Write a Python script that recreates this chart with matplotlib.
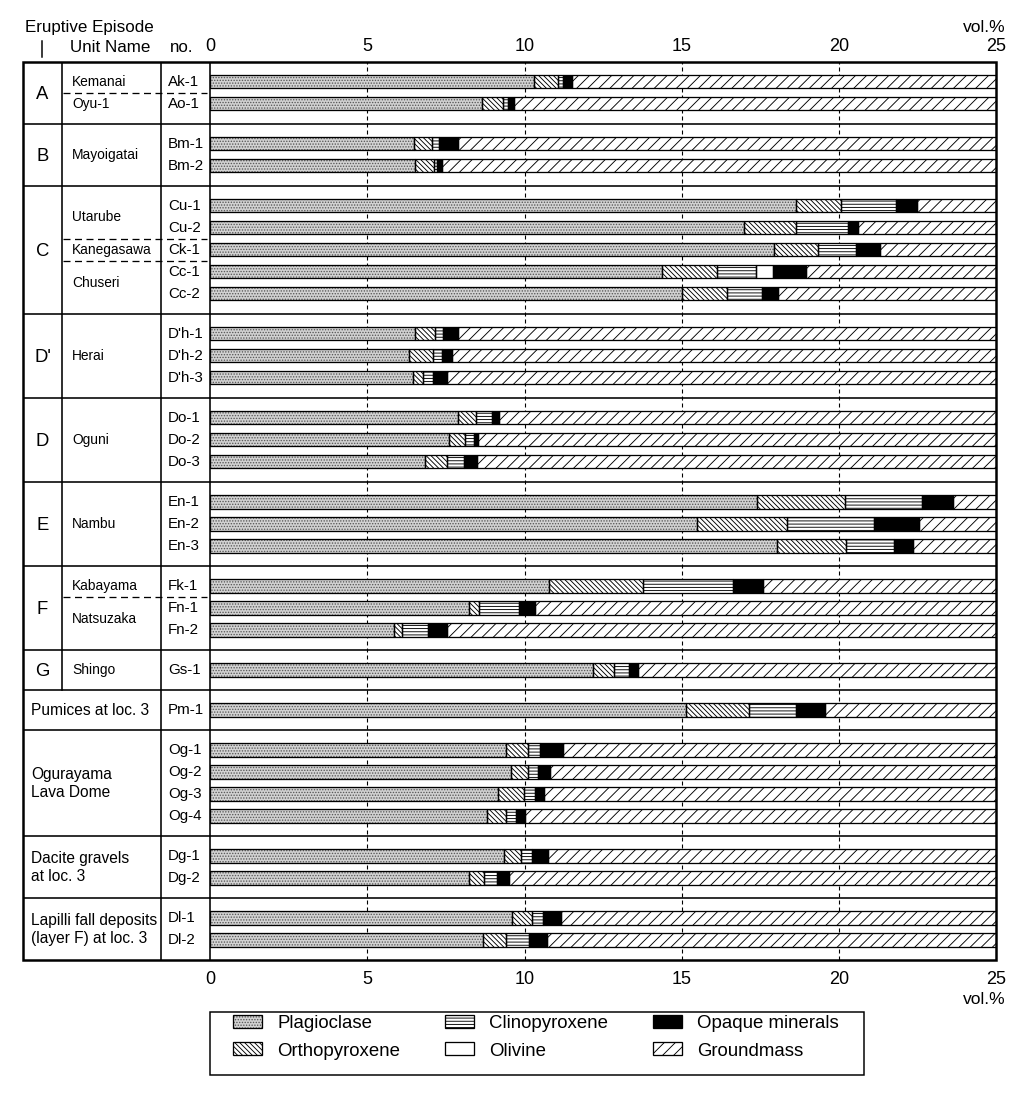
import matplotlib
matplotlib.use('Agg')
import matplotlib.pyplot as plt
from matplotlib.patches import Patch, Rectangle
import numpy as np

# ---------------- data (vol.%) ----------------
samples = ['Ak-1', 'Ao-1', 'Bm-1', 'Bm-2', 'Cu-1', 'Cu-2', 'Ck-1', 'Cc-1', 'Cc-2',
           "D'h-1", "D'h-2", "D'h-3", 'Do-1', 'Do-2', 'Do-3', 'En-1', 'En-2', 'En-3',
           'Fk-1', 'Fn-1', 'Fn-2', 'Gs-1', 'Pm-1', 'Og-1', 'Og-2', 'Og-3', 'Og-4',
           'Dg-1', 'Dg-2', 'Dl-1', 'Dl-2']
plagioclase = [10.30, 8.66, 6.47, 6.53, 18.64, 16.99, 17.94, 14.37, 15.02,
               6.53, 6.34, 6.44, 7.87, 7.61, 6.83, 17.40, 15.48, 18.04,
               10.78, 8.22, 5.84, 12.19, 15.14, 9.41, 9.56, 9.17, 8.82,
               9.35, 8.22, 9.61, 8.69]
orthopyroxene = [0.77, 0.64, 0.58, 0.59, 1.43, 1.65, 1.39, 1.74, 1.43,
                 0.61, 0.74, 0.34, 0.59, 0.51, 0.69, 2.78, 2.86, 2.19,
                 3.00, 0.34, 0.25, 0.64, 2.00, 0.69, 0.54, 0.80, 0.59,
                 0.54, 0.50, 0.64, 0.72]
clinopyroxene = [0.16, 0.19, 0.23, 0.09, 1.75, 1.63, 1.22, 1.24, 1.09,
                 0.28, 0.29, 0.30, 0.50, 0.28, 0.54, 2.47, 2.76, 1.53,
                 2.86, 1.25, 0.83, 0.50, 1.50, 0.40, 0.34, 0.35, 0.32,
                 0.36, 0.40, 0.35, 0.73]
olivine = [0, 0, 0, 0, 0, 0, 0, 0.54, 0,
           0, 0, 0, 0, 0, 0, 0, 0, 0,
           0, 0, 0, 0, 0, 0, 0, 0, 0,
           0, 0, 0, 0]
opaque = [0.29, 0.18, 0.60, 0.18, 0.66, 0.32, 0.74, 1.06, 0.52,
          0.47, 0.33, 0.46, 0.22, 0.13, 0.42, 0.97, 1.43, 0.58,
          0.93, 0.51, 0.63, 0.27, 0.92, 0.71, 0.37, 0.30, 0.29,
          0.51, 0.40, 0.56, 0.57]

episode_labels = ['A', 'B', 'C', "D'", 'D', 'E', 'F', 'G',
                  'Pumices at loc. 3', 'Ogurayama\nLava Dome',
                  'Dacite gravels\nat loc. 3', 'Lapilli fall deposits\n(layer F) at loc. 3']
episode_sizes = [2, 2, 5, 3, 3, 3, 3, 1, 1, 4, 2, 2]
unit_names = ['Kemanai', 'Oyu-1', 'Mayoigatai', 'Utarube', 'Kanegasawa', 'Chuseri',
              'Herai', 'Oguni', 'Nambu', 'Kabayama', 'Natsuzaka', 'Shingo']
unit_sizes = [1, 1, 2, 2, 1, 2, 3, 3, 3, 1, 2, 1]
unit_episode = [0, 0, 1, 2, 2, 2, 3, 4, 5, 6, 6, 7]

xticks = [0, 5, 10, 15, 20, 25]
mineral_names = ['Plagioclase', 'Orthopyroxene', 'Clinopyroxene', 'Olivine',
                 'Opaque minerals', 'Groundmass']

groundmass = [100 - (p + o + c + ol + q) for p, o, c, ol, q in
              zip(plagioclase, orthopyroxene, clinopyroxene, olivine, opaque)]
series = [plagioclase, orthopyroxene, clinopyroxene, olivine, opaque, groundmass]

# ---------------- styles ----------------
styles = [  # facecolor, hatch, hatch colour
    ('#d2d2d2', '........', '#555555'),
    ('white', '\\' * 9, 'black'),
    ('white', '-------', 'black'),
    ('white', None, 'black'),
    ('black', None, 'black'),
    ('white', '////', 'black'),
]

DPI = 133
W, H = 1024, 1101


def pt(px):
    return px * 72.0 / DPI


plt.rcParams['font.family'] = ['Liberation Sans', 'DejaVu Sans']
plt.rcParams['hatch.linewidth'] = pt(0.9)
plt.rcParams['lines.scale_dashes'] = False

fig = plt.figure(figsize=(W / DPI + 0.002, H / DPI + 0.002), dpi=DPI)
fig.patch.set_facecolor('white')

X_LEFT, X_C1, X_C2, X_DATA, X_RIGHT = 23, 62, 161, 210, 996
Y_TOP, Y_BOT = 62, 960
ROW, PAD, BAR_H = 22, 20, 13.3

# layout of rows
y_centers = []
group_bounds = []
y = 0
for n in episode_sizes:
    top = y
    for i in range(n):
        y_centers.append(top + PAD + i * ROW)
    y = top + 2 * PAD + (n - 1) * ROW
    group_bounds.append((top, y))
TOTAL = y

ax_box = [X_DATA / W, 1 - Y_BOT / H, (X_RIGHT - X_DATA) / W, (Y_BOT - Y_TOP) / H]
tab_box = [X_LEFT / W, 1 - Y_BOT / H, (X_RIGHT - X_LEFT) / W, (Y_BOT - Y_TOP) / H]

ax = fig.add_axes(ax_box)
ax.set_facecolor('none')
ax.set_xlim(0, 25)
ax.set_ylim(TOTAL, 0)
for s in ax.spines.values():
    s.set_visible(False)
ax.set_yticks([])
ax.set_xticks(xticks)
ax.set_xticklabels([str(t) for t in xticks])
ax.tick_params(axis='x', bottom=True, labelbottom=True, top=False, labeltop=False,
               length=0, labelsize=pt(18), pad=pt(11))
secax = ax.secondary_xaxis('top')
secax.set_xticks(xticks)
secax.set_xticklabels([str(t) for t in xticks])
secax.tick_params(axis='x', length=0, labelsize=pt(18), pad=pt(7))
secax.spines['top'].set_visible(False)

# gridlines
for t in xticks[1:-1]:
    ax.axvline(t, color='black', lw=pt(1.1), ls=(0, (pt(4), pt(3))), zorder=0.5)

# bars
lw_bar = pt(1.3)
left = np.zeros(len(samples))
for vals, (fc, hatch, hc) in zip(series, styles):
    vals = np.array(vals, dtype=float)
    mask = vals > 0
    ax.barh(np.array(y_centers)[mask], vals[mask], left=left[mask], height=BAR_H,
            color=fc, hatch=hatch, edgecolor=hc, linewidth=0, zorder=2)
    ax.barh(np.array(y_centers)[mask], vals[mask], left=left[mask], height=BAR_H,
            fill=False, edgecolor='black', linewidth=lw_bar, zorder=3)
    left = left + vals

# ---------------- table ----------------
tax = fig.add_axes(tab_box, zorder=5)
tax.set_facecolor('none')
tax.set_xlim(X_LEFT, X_RIGHT)
tax.set_ylim(TOTAL, 0)
tax.axis('off')

lw_in = pt(1.6)
lw_out = pt(2.5)
for (top, bot) in group_bounds[:-1]:
    tax.plot([X_LEFT, X_RIGHT], [bot, bot], color='black', lw=lw_in, solid_capstyle='butt')
tax.plot([X_C1, X_C1], [0, group_bounds[7][1]], color='black', lw=lw_in)
tax.plot([X_C2, X_C2], [0, TOTAL], color='black', lw=lw_in)
tax.plot([X_DATA, X_DATA], [0, TOTAL], color='black', lw=lw_in)
tax.add_patch(Rectangle((X_LEFT, 0), X_RIGHT - X_LEFT, TOTAL, fill=False,
                        edgecolor='black', lw=lw_out, clip_on=False, zorder=6))

for lab, n, (top, bot) in zip(episode_labels, episode_sizes, group_bounds):
    yc = (top + bot) / 2
    if len(lab) <= 2:
        tax.text((X_LEFT + X_C1) / 2, yc + 1.5, lab, ha='center', va='center',
                 fontsize=pt(18.5))
    else:
        tax.text(31, yc, lab, ha='left', va='center', fontsize=pt(15.5), linespacing=1.25)

idx = 0
prev_ep = None
for name, n, ep in zip(unit_names, unit_sizes, unit_episode):
    ys = y_centers[idx:idx + n]
    tax.text(72, np.mean(ys), name, ha='left', va='center', fontsize=pt(13.8))
    if prev_ep == ep:
        ysep = (y_centers[idx - 1] + y_centers[idx]) / 2
        tax.plot([X_C1 + 1, X_DATA - 3], [ysep, ysep], color='black', lw=pt(1.3),
                 ls=(0, (pt(7), pt(4.5))))
    prev_ep = ep
    idx += n

for s, yc in zip(samples, y_centers):
    tax.text(168, yc, s, ha='left', va='center', fontsize=pt(15.2))

# header
tax.text(25, -35, 'Eruptive Episode', ha='left', va='center', fontsize=pt(17), clip_on=False)
tax.plot([42, 42], [-21, -5], color='black', lw=pt(1.5), clip_on=False)
tax.text(70, -15, 'Unit Name', ha='left', va='center', fontsize=pt(17), clip_on=False)
tax.text(170, -15, 'no.', ha='left', va='center', fontsize=pt(17), clip_on=False)
tax.text(1005, -35, 'vol.%', ha='right', va='center', fontsize=pt(17.5), clip_on=False)
tax.text(1005, 937, 'vol.%', ha='right', va='center', fontsize=pt(17.5), clip_on=False)

# ---------------- legend ----------------
handles = []
for fc, hatch, hc in styles:
    f = Patch(facecolor=fc, hatch=hatch, edgecolor=hc, linewidth=0)
    o = Patch(facecolor='none', edgecolor='black', linewidth=pt(1.3))
    handles.append((f, o))
LEG_L, LEG_T, LEG_R, LEG_B = 210, 1012, 864, 1075
leg = fig.legend(handles, mineral_names, loc='upper left',
                 bbox_to_anchor=(233 / W, 1 - (LEG_T + 3) / H), ncol=3,
                 fontsize=pt(18.7), frameon=False, borderaxespad=0, borderpad=0,
                 handlelength=1.55, handleheight=0.7, handletextpad=0.8,
                 columnspacing=2.4, labelspacing=0.55)
fig.patches.append(Rectangle((LEG_L / W, 1 - LEG_B / H), (LEG_R - LEG_L) / W,
                             (LEG_B - LEG_T) / H, transform=fig.transFigure,
                             fill=False, edgecolor='black', lw=pt(1.5)))

fig.savefig('out.png', dpi=DPI, facecolor='white')
